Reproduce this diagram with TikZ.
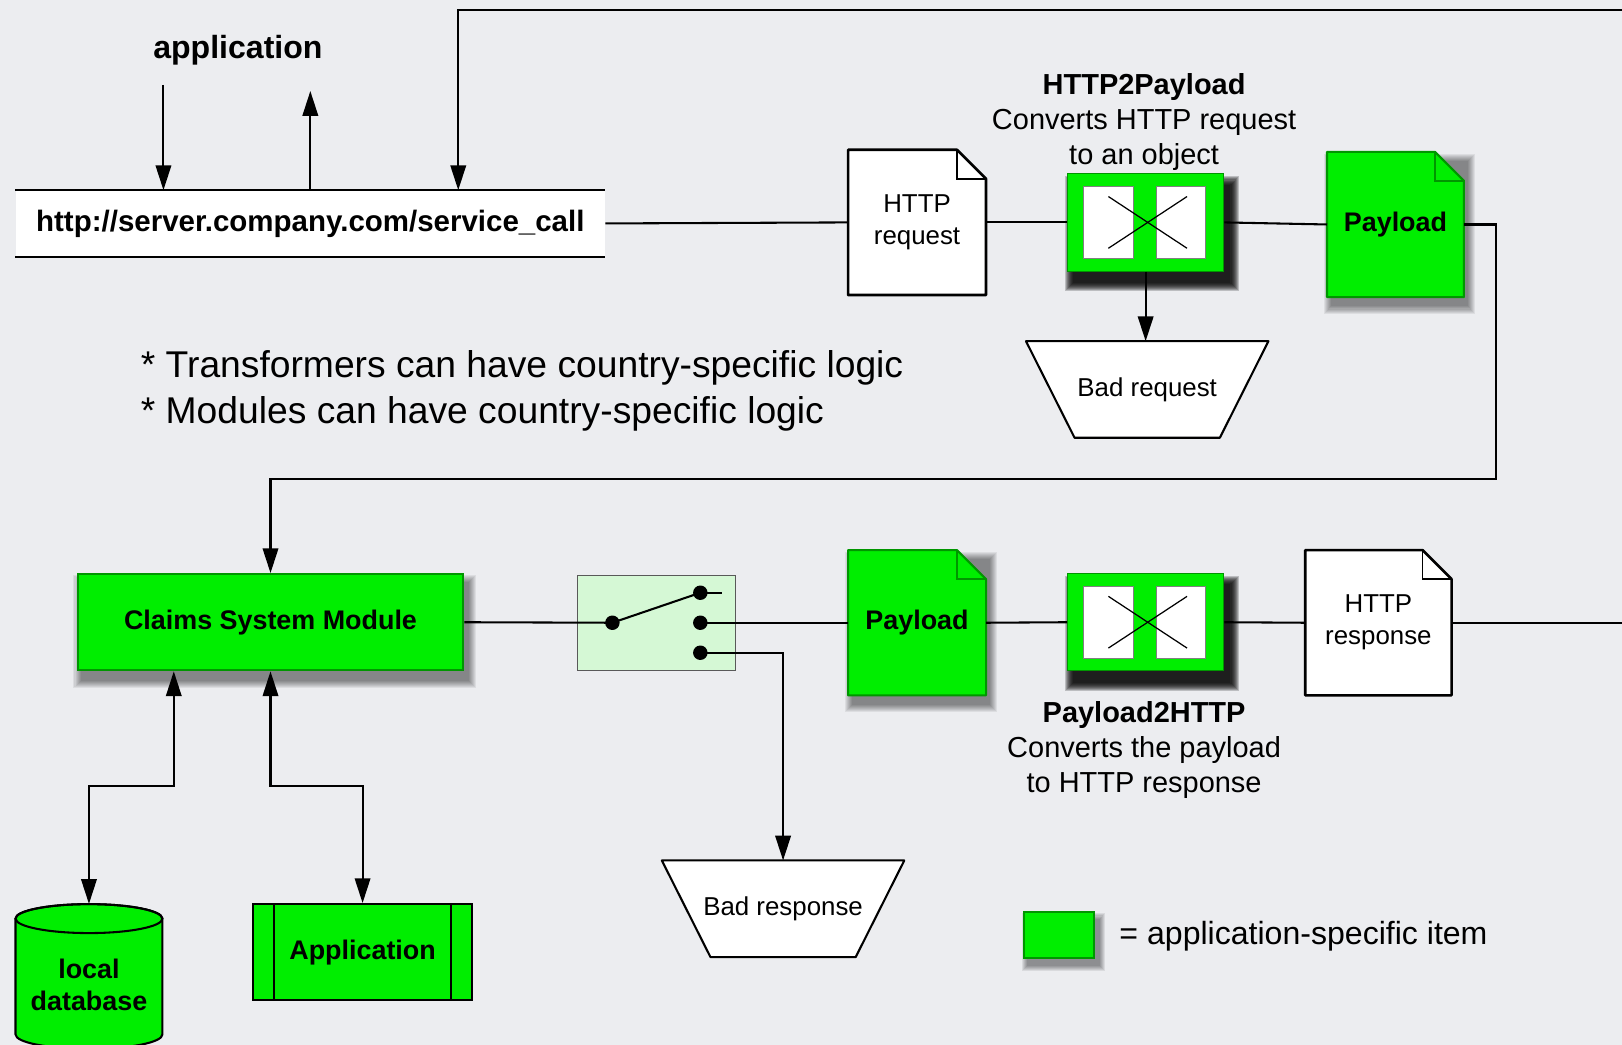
\documentclass[tikz,border=0pt]{standalone}
\usepackage{fontspec}
\setmainfont{Liberation Sans}
\usetikzlibrary{arrows.meta,calc}
\definecolor{bg}{RGB}{236,237,240}
\definecolor{appgreen}{RGB}{0,238,0}
\definecolor{appedge}{RGB}{0,150,0}
\definecolor{swgreen}{RGB}{213,248,213}
\pgfdeclarelayer{back}
\pgfdeclarelayer{background}
\pgfsetlayers{back,background,main}
\tikzset{
 conn/.style={line width=2pt},
 arr/.style={conn,-{Triangle[length=24pt,width=15pt]}},
 dbl/.style={conn,{Triangle[length=24pt,width=15pt]}-{Triangle[length=24pt,width=15pt]}},
 txt/.style={font=\fontsize{25}{31}\selectfont, align=center, inner sep=0pt},
 btxt/.style={font=\bfseries\fontsize{26}{31}\selectfont, align=center, inner sep=0pt},
 greenbox/.style={draw=appedge, fill=appgreen, line width=2pt, inner sep=0pt},
 docnode/.style={minimum width=133pt, minimum height=140pt, inner sep=0pt},
 trapnode/.style={minimum width=234pt, minimum height=93pt, inner sep=0pt},
}
% shadow: node, dx, dy, steps, opacity per step
\newcommand\myshadow[5]{%
 \foreach \k in {1,...,#4}{%
   \fill[black, opacity=#5] ($(#1.north west)+(#2-#4+\k,#3-#4+\k)$) rectangle ($(#1.south east)+(#2+#4-\k,#3+#4-\k)$);}}
\newcommand\mydocshape[3]{%
 \path[#2] (#1.north west) -- ([xshift=-28pt]#1.north east) -- ([yshift=-28pt]#1.north east) -- (#1.south east) -- (#1.south west) -- cycle;
 \draw[#3] ([xshift=-28pt]#1.north east) -- ([xshift=-28pt,yshift=-28pt]#1.north east) -- ([yshift=-28pt]#1.north east);}
\newcommand\mytrap[1]{%
 \path[draw, fill=white, line width=2pt, line join=round] (#1.north west) -- (#1.north east) -- ([xshift=-47pt]#1.south east) -- ([xshift=47pt]#1.south west) -- cycle;}
\newcommand\myxform[1]{%
 \draw[gray, line width=0.8pt, fill=white] ($(#1.west)+(16,-35)$) rectangle ($(#1.west)+(64,35)$);
 \draw[gray, line width=0.8pt, fill=white] ($(#1.west)+(86,-35)$) rectangle ($(#1.west)+(134,35)$);
 \draw[line width=1.2pt] ($(#1.west)+(40,-25)$) -- ($(#1.west)+(116,25)$);
 \draw[line width=1.2pt] ($(#1.west)+(40,25)$) -- ($(#1.west)+(116,-25)$);}
\begin{document}
\begin{tikzpicture}[x=1pt,y=-1pt]
\begin{pgfonlayer}{back}
\fill[bg] (0,0) rectangle (1568,1010);
\end{pgfonlayer}
\useasboundingbox (0,0) rectangle (1568,1010);

% ---------- top row ----------
\node[btxt, font=\bfseries\fontsize{31}{36}\selectfont] (applbl) at (230,49) {application};
\node[fill=white, minimum width=570pt, minimum height=64pt, inner sep=0pt, font=\bfseries\fontsize{28.5}{34}\selectfont] (url) at (300,216) {http://server.company.com/service\_call};
\node[docnode, txt] (hreq) at (886.5,215) {HTTP\\request};
\node[greenbox, line width=1pt, minimum width=151pt, minimum height=94pt] (t1) at (1107.5,215) {};
\myxform{t1}
\node[txt, font=\fontsize{28}{34}\selectfont] (t1lbl) at (1106,118) {\textbf{HTTP2Payload}\\Converts HTTP request\\to an object};
\node[trapnode, txt] (br1) at (1109,376.5) {Bad request};
\node[docnode, btxt, minimum width=132pt] (pay1) at (1349,217) {Payload};
\node[txt, anchor=west, align=left, font=\fontsize{36}{45}\selectfont] (notes) at (136,378) {* Transformers can have country-specific logic\\* Modules can have country-specific logic};

% ---------- bottom row ----------
\node[greenbox, minimum width=373pt, minimum height=93pt, btxt] (csm) at (261.5,601.5) {Claims System Module};
\node[draw=gray!70!black, fill=swgreen, line width=0.8pt, minimum width=153pt, minimum height=92pt] (sw) at (634.5,602) {};
\coordinate (s0) at (592,602);
\coordinate (s1) at (677,573);
\coordinate (s1e) at (698,573);
\coordinate (s2) at (677,602);
\coordinate (s3) at (677,631);
\node[docnode, btxt] (pay2) at (886.5,602) {Payload};
\node[greenbox, line width=1pt, minimum width=151pt, minimum height=94pt] (t2) at (1107.5,601.5) {};
\myxform{t2}
\node[txt, font=\fontsize{28}{34}\selectfont] (t2lbl) at (1106,725) {\textbf{Payload2HTTP}\\Converts the payload\\to HTTP response};
\node[docnode, txt, minimum width=141pt] (hresp) at (1332.5,602) {HTTP\\response};
\coordinate (re) at (1568,602);
\node[trapnode, txt] (br2) at (757,878.5) {Bad response};
\node[minimum width=142pt, minimum height=156pt, inner sep=0pt, btxt] (db) at (86,952) {local\\database};
\node[draw, fill=appgreen, line width=2pt, minimum width=211pt, minimum height=93pt, btxt] (app) at (350.5,920.5) {Application};
\draw[line width=2pt] ([xshift=21pt]app.north west) -- ([xshift=21pt]app.south west);
\draw[line width=2pt] ([xshift=-21pt]app.north east) -- ([xshift=-21pt]app.south east);

% legend
\node[greenbox, minimum width=68pt, minimum height=44pt] (leg) at (1024,904) {};
\node[txt, anchor=west, font=\fontsize{31}{36}\selectfont] (legtxt) at (1082,905) {= application-specific item};

% ---------- shadows and shapes on background ----------
\begin{pgfonlayer}{background}
\myshadow{t1}{6}{11}{9}{0.2}
\myshadow{t2}{6}{11}{9}{0.2}
\myshadow{csm}{4}{9}{8}{0.065}
\myshadow{pay1}{4}{9}{8}{0.065}
\myshadow{pay2}{4}{9}{8}{0.065}
\myshadow{leg}{4}{7}{6}{0.08}
\mydocshape{hreq}{draw, fill=white, line width=2.5pt, line join=round}{line width=1.5pt}
\mydocshape{hresp}{draw, fill=white, line width=2.5pt, line join=round}{line width=1.5pt}
\mydocshape{pay1}{draw=appedge, fill=appgreen, line width=2pt, line join=round}{draw=appedge, line width=1.5pt}
\mydocshape{pay2}{draw=appedge, fill=appgreen, line width=2pt, line join=round}{draw=appedge, line width=1.5pt}
\mytrap{br1}
\mytrap{br2}
\path[draw, fill=appgreen, line width=2pt] (15,888) -- (15,1000) arc[start angle=180, end angle=360, x radius=71pt, y radius=14pt] -- (157,888) arc[start angle=0, end angle=180, x radius=71pt, y radius=14pt] -- cycle;
\draw[line width=2pt] (86,888) ellipse[x radius=71pt, y radius=14pt];
\end{pgfonlayer}

% ---------- connectors ----------
\draw[conn] (url.north west) -- (url.north east);
\draw[conn] (url.south west) -- (url.south east);
\coordinate (a1) at (158,82);
\draw[arr] (a1) -- (a1 |- url.north);
\coordinate (a2) at (300,88);
\draw[arr] (url.north) -- (a2);
\coordinate (tr) at (1568,10);
\coordinate (c1) at (443,10);
\draw[arr] (tr) -- (c1) -- (c1 |- url.north);
\draw[conn] (url.east) -- (hreq.west);
\draw[conn] (hreq.east) -- (t1.west);
\draw[conn] (t1.east) -- (pay1.west);
\draw[arr] (t1.south) -- (t1.south |- br1.north);
\coordinate (c2) at (1446,463);
\draw[arr] (pay1.east) -| (c2) -| (csm.north);

\draw[conn] (csm.east) -- (s0);
\draw[conn] (s0) -- (s1);
\draw[conn] (s1) -- (s1e);
\draw[conn] (s2) -- (pay2.west);
\draw[arr] (s3) -| (br2.north);
\foreach \p in {s0,s1,s2,s3} \fill (\p) circle[radius=7pt];
\draw[conn] (pay2.east) -- (t2.west);
\draw[conn] (t2.east) -- (hresp.west);
\draw[conn] (hresp.east) -- (re);

\coordinate (c3) at (168,760);
\draw[dbl] (db.north) |- (c3) -- (c3 |- csm.south);
\coordinate (c4) at (350.5,760);
\draw[dbl] (csm.south) |- (c4) -- (app.north);
\end{tikzpicture}
\end{document}
